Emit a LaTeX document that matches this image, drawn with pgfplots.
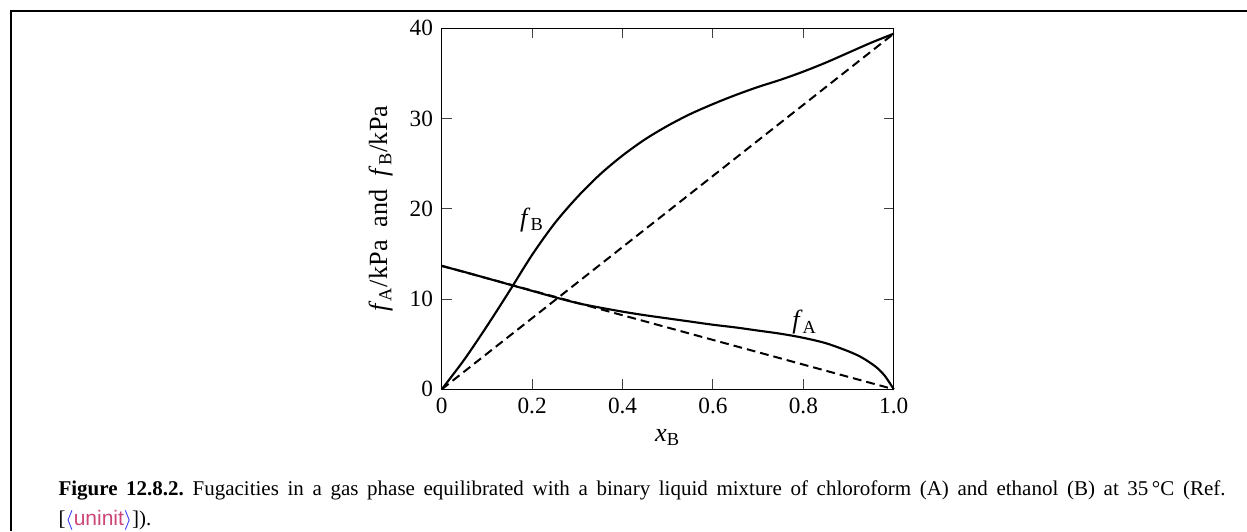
\documentclass[border=0pt]{standalone}
\usepackage{fontspec}
\setmainfont{Liberation Serif}
\newfontfamily\labelsans{Liberation Sans}
\usepackage{xcolor}
\usepackage{pgfplots}
\pgfplotsset{compat=1.18}
\definecolor{refblue}{RGB}{40,40,255}
\definecolor{refpink}{RGB}{205,70,120}
\begin{document}
\begin{tikzpicture}
\useasboundingbox (0,0) rectangle (498.8pt,-212.4pt);
\draw[line width=0.8pt] (4.2pt,-212.4pt) -- (4.2pt,-4.3pt) -- (498.8pt,-4.3pt);
\begin{axis}[
  at={(176.7pt,-155.7pt)}, anchor=south west,
  scale only axis, width=180.8pt, height=144.4pt,
  xmin=0, xmax=1, ymin=0, ymax=40,
  xtick={0,0.2,0.4,0.6,0.8,1.0},
  xticklabels={0,0.2,0.4,0.6,0.8,1.0},
  ytick={0,10,20,30,40},
  tick align=inside,
  major tick length=4pt,
  tick style={line width=0.4pt, black!75},
  axis line style={line width=0.55pt},
  every tick label/.append style={font=\fontsize{9.3}{11}\selectfont},
  /pgf/number format/assume math mode=true,
  xlabel={\textit{x}\textsubscript{B}},
  ylabel={\textit{f}\textsubscript{A}/kPa\enspace and\enspace \textit{f}\textsubscript{B}/kPa},
  label style={font=\fontsize{10.5}{12}\selectfont},
  xlabel style={at={(axis description cs:0.5,-0.133)}, anchor=center},
  ylabel style={at={(axis description cs:-0.135,0.5)}, anchor=center},
  clip=false,
]
\addplot[line width=0.85pt, smooth] coordinates {
(0,0) (0.05,3.3) (0.1,7.0) (0.15,10.9) (0.2,14.9) (0.25,18.4) (0.3,21.3)
(0.35,23.8) (0.4,25.9) (0.45,27.7) (0.5,29.2) (0.55,30.5) (0.6,31.6)
(0.65,32.6) (0.7,33.5) (0.75,34.3) (0.8,35.2) (0.85,36.2) (0.9,37.3)
(0.95,38.4) (1.0,39.4)};
\addplot[line width=0.85pt, smooth] coordinates {
(0,13.67) (0.05,13.0) (0.1,12.3) (0.15,11.6) (0.2,10.9) (0.25,10.2)
(0.3,9.55) (0.35,9.05) (0.4,8.6) (0.45,8.2) (0.5,7.85) (0.55,7.5)
(0.6,7.15) (0.65,6.85) (0.7,6.5) (0.75,6.15) (0.8,5.7) (0.85,5.1)
(0.9,4.2) (0.93,3.5) (0.96,2.5) (0.98,1.5) (1.0,0)};
\addplot[line width=0.8pt, dash pattern=on 3.5pt off 2pt] coordinates {(0,0) (1,39.4)};
\addplot[line width=0.8pt, dash pattern=on 3.5pt off 2pt] coordinates {(0,13.67) (1,0)};
\node[font=\fontsize{10.5}{12}\selectfont] at (axis cs:0.2,18.8) {\textit{f}\textsubscript{B}};
\node[font=\fontsize{10.5}{12}\selectfont] at (axis cs:0.803,7.4) {\textit{f}\textsubscript{A}};
\end{axis}
\node[anchor=base west, inner sep=0pt, text width=466.8pt, align=justify,
  font=\fontsize{8.4}{12}\selectfont] at (23.2pt,-198pt)
  {\textbf{Figure 12.8.2.}\ Fugacities in a gas phase equilibrated with a binary liquid mixture of chloroform (A) and ethanol (B) at 35\,°C (Ref.\linebreak\relax
  {[}{\color{refblue}$\langle$}{\color{refpink}\labelsans uninit}{\color{refblue}$\rangle$}{]}).};
\end{tikzpicture}
\end{document}
